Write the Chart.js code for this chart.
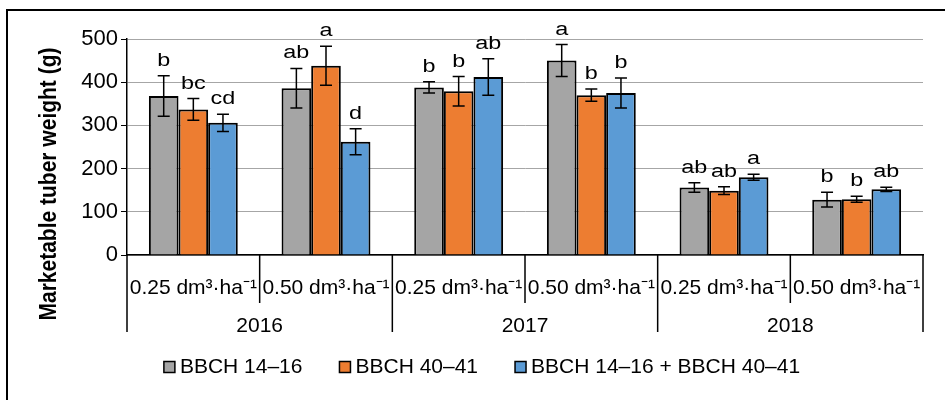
<!DOCTYPE html>
<html>
<head>
<meta charset="utf-8">
<script src="https://cdn.jsdelivr.net/npm/chart.js@4.4.1/dist/chart.umd.min.js"></script>
<style>
  body { margin: 0; background: #fff; }
  #wrap { width: 945px; height: 400px; }
</style>
</head>
<body>
<div id="wrap"><canvas id="tuberChart" width="945" height="400"></canvas></div>
<script>
const FONT = "'Liberation Sans', Arial, sans-serif";

const doses = ["0.25 dm³·ha⁻¹", "0.50 dm³·ha⁻¹", "0.25 dm³·ha⁻¹", "0.50 dm³·ha⁻¹", "0.25 dm³·ha⁻¹", "0.50 dm³·ha⁻¹"];
const years = ["2016", "2017", "2018"];
const seriesNames = ["BBCH 14–16", "BBCH 40–41", "BBCH 14–16 + BBCH 40–41"];
const seriesColors = ["#A5A5A5", "#ED7D31", "#5B9BD5"];
const yTicks = [0, 100, 200, 300, 400, 500];

const earlyValues = [368, 386, 388, 450, 156, 128];
const lateValues = [337, 438, 379, 370, 149, 129];
const bothValues = [306, 262, 412, 375, 180, 152];

const earlyErrors = [47, 46, 13, 37, 11, 17];
const lateErrors = [25, 45, 34, 14, 9, 7];
const bothErrors = [20, 30, 42, 35, 7, 5];

const earlyLetters = ["b", "ab", "b", "a", "ab", "b"];
const lateLetters = ["bc", "a", "b", "b", "ab", "b"];
const bothLetters = ["cd", "d", "ab", "b", "a", "ab"];

const yTitle = "Marketable tuber weight (g)";

// error bars, letters, multi-level dividers, axis title, legend and frame
const extras = {
  id: "extras",
  afterDatasetsDraw(chart) {
    const { ctx } = chart;
    const y = chart.scales.y;
    chart.data.datasets.forEach((ds, di) => {
      const meta = chart.getDatasetMeta(di);
      meta.data.forEach((bar, i) => {
        const v = ds.data[i], e = ds.errors[i];
        const top = y.getPixelForValue(v + e);
        const bot = y.getPixelForValue(v - e);
        ctx.save();
        ctx.strokeStyle = "#000";
        ctx.lineWidth = 1.5;
        ctx.beginPath();
        ctx.moveTo(bar.x, top); ctx.lineTo(bar.x, bot);
        ctx.moveTo(bar.x - 6, top); ctx.lineTo(bar.x + 6, top);
        ctx.moveTo(bar.x - 6, bot); ctx.lineTo(bar.x + 6, bot);
        ctx.stroke();
        ctx.translate(bar.x, top - 10);
        ctx.scale(1.3, 1);
        ctx.fillStyle = "#000";
        ctx.font = "18px " + FONT;
        ctx.textAlign = "center";
        ctx.textBaseline = "alphabetic";
        ctx.fillText(ds.letters[i], 0, 0);
        ctx.restore();
      });
    });
  },
  afterDraw(chart) {
    const { ctx } = chart;
    const x = chart.scales.x;
    ctx.save();
    ctx.strokeStyle = "#000";
    ctx.lineWidth = 1.5;
    ctx.beginPath();
    for (let k = 0; k <= doses.length; k++) {
      const px = x.getPixelForValue(k - 0.5);
      const len = k % 2 === 0 ? 77 : 48;
      ctx.moveTo(px, x.top);
      ctx.lineTo(px, x.top + len);
    }
    ctx.stroke();

    // y title
    ctx.save();
    ctx.translate(56, 184);
    ctx.rotate(-Math.PI / 2);
    ctx.scale(1, 1.15);
    ctx.font = "bold 21px " + FONT;
    ctx.fillStyle = "#000";
    ctx.textAlign = "center";
    ctx.textBaseline = "alphabetic";
    ctx.fillText(yTitle, 0, 0);
    ctx.restore();

    // legend
    ctx.font = "21px " + FONT;
    const widths = seriesNames.map(t => ctx.measureText(t).width);
    const spacing = 37;
    const total = widths.reduce((a, w) => a + w + 16, 0) + spacing * (seriesNames.length - 1);
    let lx = 482 - total / 2;
    const ly = 367;
    seriesNames.forEach((name, i) => {
      ctx.fillStyle = seriesColors[i];
      ctx.fillRect(lx, ly - 5.5, 11, 11);
      ctx.lineWidth = 1.5;
      ctx.strokeStyle = "#000";
      ctx.strokeRect(lx, ly - 5.5, 11, 11);
      ctx.fillStyle = "#000";
      ctx.textAlign = "left";
      ctx.textBaseline = "middle";
      ctx.fillText(name, lx + 16, ly);
      lx += 16 + widths[i] + spacing;
    });

    // outer frame
    ctx.lineWidth = 2;
    ctx.strokeStyle = "#000";
    ctx.strokeRect(7, 10, 960, 420);
    ctx.restore();
  }
};

const makeSet = (i, values, errors, letters) => ({
  label: seriesNames[i],
  data: values,
  errors: errors,
  letters: letters,
  backgroundColor: seriesColors[i],
  borderColor: "#000",
  borderWidth: 2
});

new Chart(document.getElementById("tuberChart"), {
  type: "bar",
  data: {
    labels: doses,
    datasets: [
      makeSet(0, earlyValues, earlyErrors, earlyLetters),
      makeSet(1, lateValues, lateErrors, lateLetters),
      makeSet(2, bothValues, bothErrors, bothLetters)
    ]
  },
  options: {
    responsive: false,
    animation: false,
    layout: { padding: { left: 40, right: 22, top: 39, bottom: 57 } },
    datasets: { bar: { categoryPercentage: 0.67, barPercentage: 1.0 } },
    plugins: {
      legend: { display: false },
      tooltip: { enabled: false }
    },
    scales: {
      x: {
        grid: { display: false },
        border: { color: "#000", width: 1.5 },
        ticks: { color: "#000", font: { family: FONT, size: 21 }, padding: 13, maxRotation: 0, autoSkip: false },
        afterFit: s => { s.height = 48; }
      },
      x2: {
        type: "category",
        labels: years,
        position: "bottom",
        offset: true,
        grid: { display: false },
        border: { display: false },
        ticks: { color: "#000", font: { family: FONT, size: 21 }, padding: 3 },
        afterFit: s => { s.height = 40; }
      },
      y: {
        min: 0,
        max: 500,
        afterBuildTicks: s => { s.ticks = yTicks.map(v => ({ value: v })); },
        ticks: { color: "#000", font: { family: FONT, size: 22 }, padding: 3 },
        grid: { color: "#A6A6A6", tickColor: "#000", tickLength: 6 },
        border: { color: "#000", width: 1.5 },
        afterFit: s => { s.width = 87; }
      }
    }
  },
  plugins: [extras]
});
</script>
</body>
</html>
